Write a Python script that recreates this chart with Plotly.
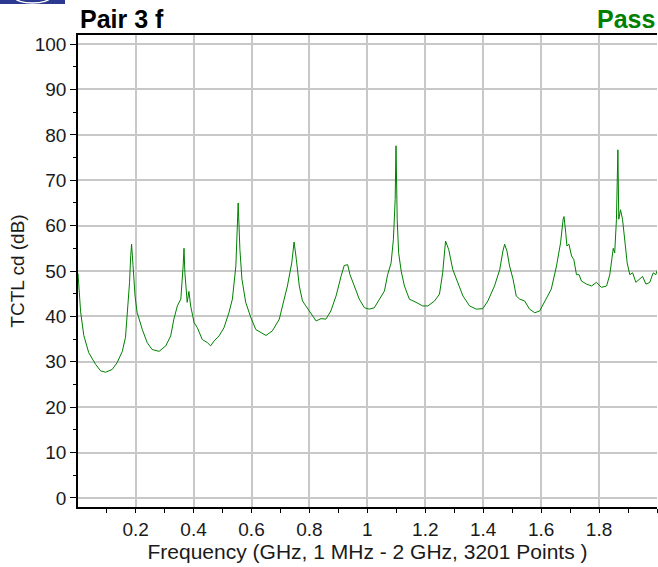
import plotly.graph_objects as go

# ---- data ----
freq_ghz = [0.001, 0.010, 0.021, 0.038, 0.062, 0.079, 0.096, 0.119, 0.136, 0.154,
            0.165, 0.173, 0.179, 0.183, 0.186, 0.191, 0.198, 0.205, 0.223, 0.240,
            0.257, 0.281, 0.304, 0.321, 0.332, 0.344, 0.356, 0.364, 0.367, 0.370,
            0.378, 0.384, 0.390, 0.402, 0.413, 0.430, 0.448, 0.459, 0.471, 0.488,
            0.505, 0.522, 0.534, 0.546, 0.554, 0.560, 0.567, 0.580, 0.598, 0.615,
            0.650, 0.672, 0.696, 0.707, 0.724, 0.739, 0.747, 0.755, 0.765, 0.776,
            0.794, 0.811, 0.823, 0.840, 0.857, 0.874, 0.892, 0.909, 0.920, 0.932,
            0.940, 0.955, 0.972, 0.990, 1.007, 1.024, 1.041, 1.059, 1.070, 1.082,
            1.090, 1.096, 1.099, 1.103, 1.108, 1.117, 1.128, 1.145, 1.168, 1.191,
            1.209, 1.232, 1.249, 1.260, 1.270, 1.281, 1.295, 1.312, 1.330, 1.353,
            1.376, 1.399, 1.416, 1.439, 1.457, 1.468, 1.474, 1.482, 1.491, 1.503,
            1.514, 1.526, 1.543, 1.560, 1.578, 1.595, 1.618, 1.635, 1.653, 1.667,
            1.676, 1.679, 1.685, 1.689, 1.696, 1.705, 1.713, 1.722, 1.731, 1.739,
            1.757, 1.774, 1.791, 1.808, 1.826, 1.837, 1.849, 1.854, 1.860, 1.865,
            1.868, 1.874, 1.881, 1.889, 1.897, 1.906, 1.916, 1.927, 1.938, 1.950,
            1.962, 1.975, 1.987, 1.996, 2.000]

tctl_cd_db = [49.5, 41.0, 35.8, 32.0, 29.4, 28.0, 27.7, 28.3, 29.8, 32.3,
              35.4, 41.6, 47.5, 53.4, 55.9, 51.2, 44.5, 40.9, 37.1, 34.2,
              32.7, 32.3, 33.5, 35.7, 39.4, 42.3, 43.8, 51.1, 55.0, 49.6,
              43.1, 45.5, 42.3, 38.6, 37.5, 34.9, 34.2, 33.5, 34.6, 35.7,
              37.5, 40.8, 43.8, 51.1, 65.0, 54.7, 48.2, 43.1, 39.7, 37.1,
              35.8, 36.8, 39.4, 42.3, 46.7, 51.8, 56.4, 52.5, 46.7, 43.4,
              41.6, 40.1, 39.0, 39.5, 39.4, 41.2, 44.5, 48.8, 51.2, 51.4,
              49.2, 46.7, 43.8, 41.9, 41.6, 41.9, 43.8, 45.6, 49.2, 51.8,
              57.0, 65.7, 77.6, 61.4, 54.0, 49.9, 46.7, 43.8, 43.1, 42.3,
              42.3, 43.4, 44.9, 49.6, 56.6, 54.7, 50.3, 47.5, 44.5, 42.3,
              41.6, 41.7, 43.4, 46.7, 50.3, 54.4, 55.9, 54.4, 51.1, 48.2,
              44.5, 43.8, 43.4, 41.6, 40.8, 41.2, 43.8, 46.0, 51.1, 56.2,
              61.4, 62.0, 58.4, 55.5, 55.9, 53.3, 52.5, 49.2, 49.2, 47.8,
              47.1, 46.7, 47.5, 46.4, 46.7, 49.2, 55.0, 54.0, 61.4, 76.7,
              61.4, 63.5, 61.4, 56.2, 51.8, 49.2, 49.6, 47.5, 48.2, 48.8,
              47.1, 47.5, 49.6, 49.2, 50.1]

x_tick_vals = [0.2, 0.4, 0.6, 0.8, 1.0, 1.2, 1.4, 1.6, 1.8]
x_tick_text = ["0.2", "0.4", "0.6", "0.8", "1", "1.2", "1.4", "1.6", "1.8"]
y_tick_vals = [0, 10, 20, 30, 40, 50, 60, 70, 80, 90, 100]

assert len(freq_ghz) == len(tctl_cd_db)

W, H = 658, 567
ML, MR, MT, MB = 78, 1, 35, 60
PW, PH = W - ML - MR, H - MT - MB
FONT = "Arial, Liberation Sans, sans-serif"

fig = go.Figure(go.Scatter(x=freq_ghz, y=tctl_cd_db, mode="lines",
                           line=dict(color="#008000", width=1),
                           hoverinfo="skip"))

def px_x(p):
    return (p - ML) / PW

def px_y(p):
    return 1 + (MT - p) / PH

fig.update_layout(
    width=W, height=H,
    margin=dict(l=ML, r=MR, t=MT, b=MB, autoexpand=False),
    paper_bgcolor="white", plot_bgcolor="white",
    showlegend=False,
    font=dict(family=FONT, color="#1a1a1a", size=19),
    xaxis=dict(
        range=[0.001, 2.0], tickmode="array", tickvals=x_tick_vals, ticktext=x_tick_text,
        ticks="outside", ticklen=4, tickwidth=1, tickcolor="black",
        minor=dict(tickmode="linear", tick0=0, dtick=0.1, ticks="outside", ticklen=4,
                   tickcolor="black", showgrid=False),
        showgrid=True, gridcolor="#c8c8c8", gridwidth=2, zeroline=False,
        showline=True, linecolor="black", linewidth=2, mirror=True,
        automargin=False,
        tickfont=dict(size=19),
        title=dict(text="Frequency (GHz, 1 MHz - 2 GHz, 3201 Points )",
                   font=dict(size=21), standoff=0),
    ),
    yaxis=dict(
        range=[-2, 102], tickmode="array", tickvals=y_tick_vals,
        ticks="outside", ticklen=6, tickwidth=1, tickcolor="black",
        minor=dict(tickmode="linear", tick0=0, dtick=5, ticks="outside", ticklen=3,
                   tickcolor="black", showgrid=False),
        showgrid=True, gridcolor="#c8c8c8", gridwidth=2, zeroline=False,
        showline=True, linecolor="black", linewidth=1.5,
        automargin=False,
        tickfont=dict(size=19),
        title=dict(text="TCTL cd (dB)", font=dict(size=19), standoff=5),
    ),
    annotations=[
        dict(text="<b>Pair 3 f</b>", x=0, y=px_y(18.5), xref="paper", yref="paper",
             xanchor="left", yanchor="middle", showarrow=False,
             font=dict(size=25, color="black", family=FONT)),
        dict(text="<b>Pass</b>", x=px_x(657), y=px_y(18.5), xref="paper", yref="paper",
             xanchor="right", yanchor="middle", showarrow=False,
             font=dict(size=25, color="#008000", family=FONT)),
    ],
    shapes=[
        dict(type="rect", xref="paper", yref="paper",
             x0=px_x(0), x1=px_x(65), y0=px_y(4), y1=px_y(0),
             fillcolor="#2b3990", line=dict(width=0), layer="above"),
        dict(type="circle", xref="paper", yref="paper",
             x0=px_x(15), x1=px_x(50), y0=px_y(3), y1=px_y(-8),
             fillcolor="rgba(0,0,0,0)", line=dict(color="white", width=1.5), layer="above"),
    ],
)

fig.write_html("out.html", config={"displayModeBar": False},
               post_script="document.body.style.margin='0';document.body.style.overflow='hidden';")
